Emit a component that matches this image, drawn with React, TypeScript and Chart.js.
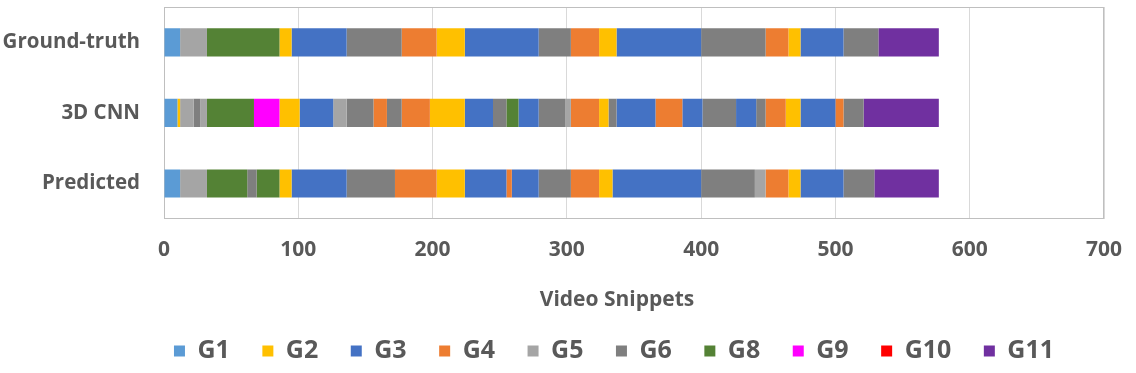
import React, { useEffect, useRef } from "react";
import { Chart, registerables } from "chart.js";

Chart.register(...registerables);

// ---- data ----
const rowLabels = ["Ground-truth", "3D CNN", "Predicted"];

const gestureNames = ["G1", "G2", "G3", "G4", "G5", "G6", "G8", "G9", "G10", "G11"];
const gestureColors = ["#5B9BD5", "#FFC000", "#4472C4", "#ED7D31", "#A5A5A5", "#7F7F7F", "#548235", "#FF00FF", "#FF0000", "#7030A0"];

const gtGestures = ["G1", "G5", "G8", "G2", "G3", "G6", "G4", "G2", "G3", "G6", "G4", "G2", "G3", "G6", "G4", "G2", "G3", "G6", "G11"];
const gtLengths = [12, 20, 54, 9, 41, 41, 26, 21, 55, 24, 21, 13, 63, 48, 17, 9, 32, 26, 45];

const cnnGestures = ["G1", "G2", "G5", "G6", "G5", "G8", "G9", "G2", "G3", "G5", "G6", "G4", "G6", "G4", "G2", "G3", "G6", "G8", "G3", "G6", "G5", "G4", "G2", "G6", "G3", "G4", "G3", "G6", "G3", "G6", "G4", "G2", "G3", "G4", "G6", "G11"];
const cnnLengths = [10, 2, 10, 5, 5, 35, 19, 15, 25, 10, 20, 10, 11, 21, 26, 21, 10, 9, 15, 20, 4, 21, 7, 6, 29, 20, 15, 25, 15, 7, 15, 11, 26, 6, 15, 56];

const predGestures = ["G1", "G5", "G8", "G6", "G8", "G2", "G3", "G6", "G4", "G2", "G3", "G4", "G3", "G6", "G4", "G2", "G3", "G6", "G5", "G4", "G2", "G3", "G6", "G11"];
const predLengths = [12, 20, 30, 7, 17, 9, 41, 36, 31, 21, 31, 4, 20, 24, 21, 10, 66, 40, 8, 17, 9, 32, 23, 48];

const xMin = 0;
const xMax = 700;
const xStep = 100;
const xTitle = "Video Snippets";

// ---- layout / style ----
const FONT = "'Open Sans', sans-serif";
const TEXT = "#595959";
const LEGEND_CENTER_X = 614;
const LEGEND_DY = -11;
const TITLE_CENTER_X = 617;

const rowsGestures = [gtGestures, cnnGestures, predGestures];
const rowsLengths = [gtLengths, cnnLengths, predLengths];

function colorOf(g: string) {
  return gestureColors[gestureNames.indexOf(g)];
}

const nudgePlugin = {
  id: "nudge",
  afterLayout(chart: any) {
    const lg = chart.legend;
    if (lg) {
      const dx = LEGEND_CENTER_X - (lg.left + lg.right) / 2;
      lg.left += dx;
      lg.right += dx;
      lg.top += LEGEND_DY;
      lg.bottom += LEGEND_DY;
    }
    const tb = chart.titleBlock;
    if (tb) {
      const dx = TITLE_CENTER_X - (tb.left + tb.right) / 2;
      tb.left += dx;
      tb.right += dx;
    }
  },
  beforeDatasetsDraw(chart: any) {
    const { ctx, chartArea } = chart;
    ctx.save();
    ctx.strokeStyle = "#BFBFBF";
    ctx.lineWidth = 1;
    ctx.strokeRect(
      Math.round(chartArea.left) + 0.5,
      Math.round(chartArea.top) + 0.5,
      Math.round(chartArea.right - chartArea.left) - 1,
      Math.round(chartArea.bottom - chartArea.top) - 1
    );
    ctx.restore();
  },
};

export default function App() {
  const canvasRef = useRef<HTMLCanvasElement | null>(null);

  useEffect(() => {
    if (!canvasRef.current) return;
    Chart.defaults.font.family = FONT;

    const starts = rowsLengths.map((lens) => {
      const s: number[] = [];
      let acc = 0;
      lens.forEach((l) => {
        s.push(acc);
        acc += l;
      });
      return s;
    });
    const maxSeg = Math.max(...rowsLengths.map((l) => l.length));
    const datasets: any[] = [];
    for (let j = 0; j < maxSeg; j++) {
      datasets.push({
        label: "seg" + j,
        data: rowLabels.map((_, r) =>
          j < rowsLengths[r].length ? [starts[r][j], starts[r][j] + rowsLengths[r][j]] : null
        ),
        backgroundColor: rowLabels.map((_, r) =>
          j < rowsGestures[r].length ? colorOf(rowsGestures[r][j]) : "rgba(0,0,0,0)"
        ),
        borderWidth: 0,
        grouped: false,
        barPercentage: 0.4,
        categoryPercentage: 1.0,
      });
    }

    const chart = new Chart(canvasRef.current, {
      type: "bar",
      data: { labels: rowLabels, datasets },
      plugins: [nudgePlugin],
      options: {
        indexAxis: "y",
        animation: false,
        responsive: true,
        maintainAspectRatio: false,
        layout: { padding: { left: 0, right: 32, top: 7, bottom: 0 } },
        scales: {
          x: {
            type: "linear",
            min: xMin,
            max: xMax,
            ticks: {
              stepSize: xStep,
              padding: 18.5,
              color: TEXT,
              font: { size: 21, weight: "bold", family: FONT },
            },
            grid: { color: "#D9D9D9", drawTicks: false },
            border: { display: false },
            afterFit(scale: any) {
              scale.paddingRight = 0;
            },
          },
          y: {
            ticks: {
              padding: 24,
              color: TEXT,
              font: { size: 20.5, weight: "bold", family: FONT },
            },
            grid: { display: false, drawTicks: false },
            border: { display: false },
            afterFit(scale: any) {
              scale.width = 164;
              scale.paddingTop = 0;
              scale.paddingBottom = 0;
            },
          },
        },
        plugins: {
          tooltip: { enabled: false },
          title: {
            display: true,
            text: xTitle,
            position: "bottom",
            weight: 500,
            align: "center",
            color: TEXT,
            font: { size: 21, weight: "bold", family: FONT },
            padding: { top: 6.4, bottom: 4.4 },
          },
          legend: {
            display: true,
            position: "bottom",
            maxHeight: 56,
            onClick: () => {},
            labels: {
              boxWidth: 11,
              boxHeight: 11,
              padding: 32.5,
              color: TEXT,
              font: { size: 25, weight: "bold", family: FONT },
              generateLabels: () =>
                gestureNames.map((n, i) => ({
                  text: n,
                  fillStyle: gestureColors[i],
                  strokeStyle: gestureColors[i],
                  lineWidth: 0,
                  hidden: false,
                  fontColor: TEXT,
                  datasetIndex: 0,
                })),
            },
          },
        },
      },
    } as any);

    return () => chart.destroy();
  }, []);

  return (
    <div style={{ position: "absolute", left: 0, top: 0, width: 1136, height: 373 }}>
      <canvas ref={canvasRef} />
    </div>
  );
}
